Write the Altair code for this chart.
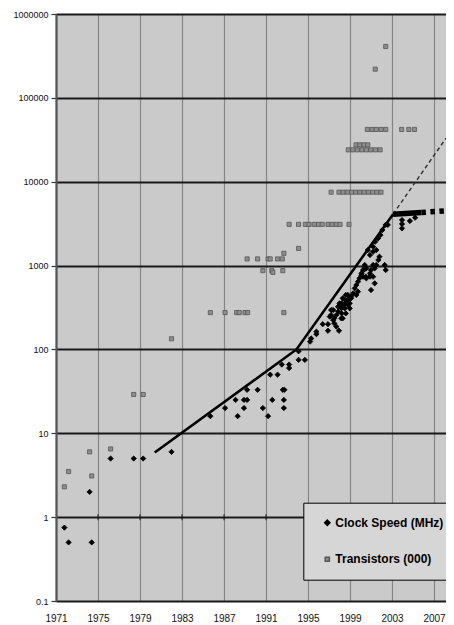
import altair as alt
import pandas as pd

# ---------------- data ----------------
SERIES = ["Clock Speed (MHz)", "Transistors (000)"]

clock_years = [
    1971.8, 1972.2, 1974.2, 1974.4, 1976.2, 1978.4, 1979.3, 1982.0,
    1985.7, 1987.1, 1988.3, 1988.1, 1988.9, 1988.9, 1989.2, 1989.2, 1990.2,
    1990.7, 1991.2, 1991.6, 1991.4, 1992.1, 1992.6, 1992.75, 1992.7, 1992.7,
    1992.5, 1993.2, 1993.2, 1994.1, 1994.1, 1994.7, 1995.2, 1995.3,
    1995.8, 1995.8, 1996.4, 1996.9, 1996.9, 1997.2, 1997.2, 1997.4, 1997.5,
    1997.95, 1997.86, 1998.2, 1998.2, 1998.3, 1998.6, 1998.8, 1998.5, 1998.6,
    1998.97, 1999.1, 1998.3,
    1999.6, 1999.45, 1999.76, 1999.6, 1999.3, 1999.1, 1998.97, 1998.8, 1998.6,
    1998.5, 1998.33, 1998.17, 1998.0, 1997.86, 1997.7, 1997.4, 1997.07,
    1997.5, 1997.7, 1998.17, 1998.8, 1998.97,
    2001.8, 2001.7, 2001.5, 2001.35, 2001.2, 2001.0, 2000.9, 2000.55, 2000.4,
    2000.24, 2000.08, 1999.9, 1999.76, 2000.24, 2000.55, 2000.9, 2001.2,
    2001.35, 2001.0, 2002.3, 2002.4, 2000.1, 2000.3, 2000.45, 2000.5,
    2002.08, 2001.9, 2001.67, 2001.4, 2001.2, 2001.5, 2001.2, 2000.9, 2000.7,
    2002.4, 2002.6,
    2003.95, 2003.95, 2003.95, 2004.7, 2005.2,
]
clock_mhz = [
    0.75, 0.5, 2, 0.5, 5, 5, 5, 6,
    16, 20, 16, 25, 20, 25, 25, 33, 33,
    20, 16, 25, 50, 50, 33, 33, 25, 20,
    66, 66, 60, 95, 75, 75, 124, 135,
    163, 152, 200, 200, 167, 257, 295, 224, 205,
    167, 323, 355, 269, 407, 446, 388, 309, 269,
    309, 407, 235,
    586, 535, 489, 446, 467, 425, 407, 446, 388,
    355, 339, 309, 355, 282, 257, 295, 246,
    235, 187, 235, 339, 355,
    1276, 1165, 1016, 927, 1016, 885, 807, 927, 1016,
    885, 771, 704, 642, 737, 704, 737, 737,
    614, 511, 1016, 885, 810, 885, 927, 737,
    2655, 2310, 2113, 1927, 1680, 1533, 1464, 1337, 1533,
    3060, 3060,
    3490, 3130, 2780, 3400, 3720,
]

trans_years = [
    1971.8, 1972.2, 1974.2, 1974.4, 1976.2, 1978.4, 1979.3, 1982.0,
    1985.7, 1987.1, 1988.2, 1988.45, 1989.0, 1989.25, 1992.7,
    1989.2, 1990.2, 1991.2, 1991.4, 1992.1, 1992.55, 1992.7, 1994.1,
    1990.7, 1991.55, 1991.65, 1992.6,
    1993.2, 1994.1, 1994.75, 1995.1, 1995.6, 1996.0, 1996.35, 1996.9,
    1997.3, 1997.7, 1998.05, 1998.9,
    1997.2, 1997.95, 1998.35, 1998.75, 1999.15, 1999.55, 1999.95, 2000.35,
    2000.75, 2001.15, 2001.55, 2001.95,
    1998.84, 1999.27, 1999.7, 2000.13, 2000.56, 2000.99, 2001.42, 2001.86,
    1999.57, 1999.95, 2000.33, 2000.69,
    2000.65, 2001.1, 2001.5, 2001.96, 2002.4, 2003.92, 2004.6, 2005.14,
    2001.4, 2002.4,
]
trans_k = [
    2.3, 3.5, 6.0, 3.1, 6.5, 29, 29, 134,
    275, 275, 275, 275, 275, 275, 275,
    1200, 1200, 1200, 1200, 1200, 1200, 1400, 1600,
    870, 870, 830, 870,
    3100, 3100, 3100, 3100, 3100, 3100, 3100, 3100,
    3100, 3100, 3100, 3100,
    7500, 7500, 7500, 7500, 7500, 7500, 7500, 7500,
    7500, 7500, 7500, 7500,
    24000, 24000, 24000, 24000, 24000, 24000, 24000, 24000,
    27500, 27500, 27500, 27500,
    42000, 42000, 42000, 42000, 42000, 42000, 42000, 42000,
    220000, 410000,
]

X_MAX = 2008.14  # right edge of the visible plot
trend_years = [1980.4, 1993.9, 2003.1]
trend_vals = [5.9, 100, 4100]
proj_years = [2003.1, X_MAX]
proj_vals = [4100, 33000]
flat_years = [2003.1, 2005.8]
flat_vals = [4100, 4300]
flat_dash_years = [2005.8, X_MAX]
flat_dash_vals = [4300, 4500]

tick_years = [1971, 1975, 1979, 1983, 1987, 1991, 1995, 1999, 2003, 2007]
y_ticks = [0.1, 1, 10, 100, 1000, 10000, 100000, 1000000]

# ---------------- tables ----------------
pts = pd.concat([
    pd.DataFrame({"year": trans_years, "value": trans_k, "series": SERIES[1]}),
    pd.DataFrame({"year": clock_years, "value": clock_mhz, "series": SERIES[0]}),
], ignore_index=True)

FONT = "Liberation Sans"

x_enc = alt.X(
    "year:Q",
    scale=alt.Scale(domain=[1971, X_MAX], nice=False, zero=False),
    axis=alt.Axis(values=tick_years, format="d", grid=True, gridColor="#858585",
                  gridWidth=1.2, ticks=False, tickSize=0, domain=False,
                  labelFlush=False, labelPadding=12, labelFont=FONT, labelFontSize=10,
                  labelColor="#111111", title=None),
)
y_enc = alt.Y(
    "value:Q",
    scale=alt.Scale(type="log", domain=[0.1, 1000000], nice=False),
    axis=alt.Axis(values=y_ticks, format=".1~f", grid=True, gridColor="#1a1a1a",
                  gridWidth=1.8, tickSize=5, tickColor="#333333", tickWidth=1.2,
                  domainColor="#555555", domainWidth=2.2, labelFontSize=9,
                  labelFont=FONT, labelColor="#111111", labelPadding=3, title=None),
)

points = alt.Chart(pts).mark_point(filled=True, opacity=1, strokeWidth=0.8).encode(
    x=x_enc,
    y=y_enc,
    shape=alt.Shape("series:N", scale=alt.Scale(domain=SERIES, range=["diamond", "square"]),
                    legend=alt.Legend(title=None)),
    color=alt.Color("series:N", scale=alt.Scale(domain=SERIES, range=["#000000", "#8e8e8e"]),
                    legend=alt.Legend(title=None)),
    stroke=alt.Stroke("series:N", scale=alt.Scale(domain=SERIES, range=["#000000", "#555555"]),
                      legend=alt.Legend(title=None)),
    size=alt.Size("series:N", scale=alt.Scale(domain=SERIES, range=[28, 17]),
                  legend=alt.Legend(title=None)),
)

axis_ticks = alt.Chart(pd.DataFrame({"year": tick_years[1:], "value": [1] * (len(tick_years) - 1)})).mark_tick(
    orient="vertical", size=6, thickness=1.3, color="#111111"
).encode(x=x_enc, y=y_enc)

trend = alt.Chart(pd.DataFrame({"year": trend_years, "value": trend_vals})).mark_line(
    color="#000000", strokeWidth=2.6, clip=True
).encode(x=x_enc, y=y_enc)

proj = alt.Chart(pd.DataFrame({"year": proj_years, "value": proj_vals})).mark_line(
    color="#303030", strokeWidth=1.4, strokeDash=[4, 3], clip=True
).encode(x=x_enc, y=y_enc)

flat = alt.Chart(pd.DataFrame({"year": flat_years, "value": flat_vals})).mark_line(
    color="#000000", strokeWidth=5.5, strokeCap="butt", clip=True
).encode(x=x_enc, y=y_enc)

flat_dash = alt.Chart(pd.DataFrame({"year": flat_dash_years, "value": flat_dash_vals})).mark_line(
    color="#000000", strokeWidth=5.5, strokeDash=[4.5, 4.5], strokeCap="butt", clip=True
).encode(x=x_enc, y=y_enc)

chart = alt.layer(axis_ticks, points, trend, proj, flat, flat_dash).properties(
    width=390,
    height=587,
    autosize=alt.AutoSizeParams(type="none"),
    padding={"left": 48, "top": 6, "right": 0, "bottom": 22},
    background="#ffffff",
).configure_view(
    fill="#cacaca", stroke="transparent"
).configure_legend(
    orient="none", legendX=247.3, legendY=488.7,
    fillColor="#d6d6d6", strokeColor="#000000",
    padding=14, rowPadding=24.5, symbolOffset=4, labelOffset=2,
    labelFont=FONT, labelFontSize=12, labelFontWeight="bold", labelColor="#000000",
)

chart.save("out.html", embed_options={"renderer": "svg", "actions": False})
